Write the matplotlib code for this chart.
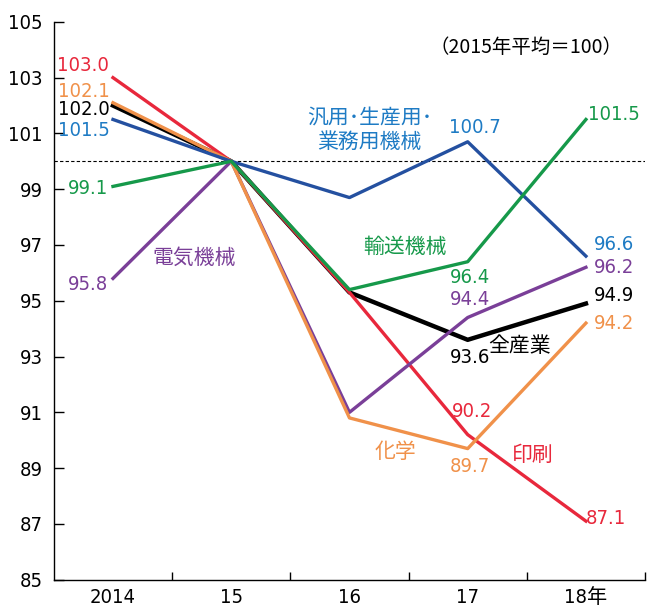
import matplotlib
matplotlib.use("Agg")
import matplotlib.pyplot as plt

years = ["2014", "15", "16", "17", "18年"]
all_ind = [102.0, 100.0, 95.3, 93.6, 94.9]
printing = [103.0, 100.0, 95.3, 90.2, 87.1]
chemical = [102.1, 100.0, 90.8, 89.7, 94.2]
machinery = [101.5, 100.0, 98.7, 100.7, 96.6]
transport = [99.1, 100.0, 95.4, 96.4, 101.5]
electric = [95.8, 100.0, 91.0, 94.4, 96.2]

FAM = ["DejaVu Sans", "Noto Sans CJK JP"]
CJK = ["Noto Sans CJK JP", "DejaVu Sans"]
plt.rcParams['font.family'] = FAM
plt.rcParams['font.stretch'] = "condensed"

RED = "#E8283C"
ORANGE = "#F0914A"
BLUE = "#2450A0"
BLUE_T = "#1E7BC4"
GREEN = "#16994A"
PURPLE = "#7A3F98"

fig = plt.figure(figsize=(6.65, 6.07), dpi=100)
ax = fig.add_axes([0.081, 0.045, 0.889, 0.919])
x = list(range(len(years)))

ax.axhline(100, color="black", lw=0.8, ls=(0, (3, 2)), zorder=1)
ax.plot(x, all_ind, color="black", lw=3.2, zorder=2)
ax.plot(x, printing, color=RED, lw=2.4, zorder=3)
ax.plot(x, electric, color=PURPLE, lw=2.4, zorder=3)
ax.plot(x, chemical, color=ORANGE, lw=2.4, zorder=4)
ax.plot(x, machinery, color=BLUE, lw=2.4, zorder=4)
ax.plot(x, transport, color=GREEN, lw=2.4, zorder=5)

fs = 14.5
def t(xx, yy, s, c):
    ax.text(xx, yy, s, color=c, fontsize=fs, ha="center", va="center",
            family=FAM, fontstretch="condensed")

def j(xx, yy, s, c, size=15):
    ax.text(xx, yy, s, color=c, fontsize=size, ha="center", va="center",
            family=CJK)

t(-0.25, 103.42, f"{printing[0]:.1f}", RED)
t(-0.25, 102.49, f"{chemical[0]:.1f}", ORANGE)
t(-0.25, 101.85, f"{all_ind[0]:.1f}", "black")
t(-0.25, 101.09, f"{machinery[0]:.1f}", BLUE_T)
t(-0.21, 99.01, f"{transport[0]:.1f}", GREEN)
t(-0.21, 95.57, f"{electric[0]:.1f}", PURPLE)
j(0.69, 96.54, "電気機械", PURPLE)
j(2.17, 101.56, "汎用･生産用･", BLUE_T)
j(2.17, 100.70, "業務用機械", BLUE_T)
t(3.06, 101.2, f"{machinery[3]:.1f}", BLUE_T)
t(4.24, 101.67, f"{transport[4]:.1f}", GREEN)
j(2.47, 96.94, "輸送機械", GREEN)
t(4.24, 97.0, f"{machinery[4]:.1f}", BLUE_T)
t(3.02, 95.82, f"{transport[3]:.1f}", GREEN)
t(4.24, 96.18, f"{electric[4]:.1f}", PURPLE)
t(3.02, 95.04, f"{electric[3]:.1f}", PURPLE)
t(4.24, 95.18, f"{all_ind[4]:.1f}", "black")
j(3.44, 93.39, "全産業", "black")
t(3.02, 92.96, f"{all_ind[3]:.1f}", "black")
t(4.24, 94.18, f"{chemical[4]:.1f}", ORANGE)
t(3.04, 91.02, f"{printing[3]:.1f}", RED)
j(2.39, 89.59, "化学", ORANGE)
t(3.02, 89.05, f"{chemical[3]:.1f}", ORANGE)
j(3.55, 89.48, "印刷", RED)
t(4.17, 87.19, f"{printing[4]:.1f}", RED)
j(3.49, 104.07, "（2015年平均＝100）", "black", size=14)

ax.set_xlim(-0.5, 4.5)
ax.set_ylim(85, 105)
ax.set_yticks(range(85, 106, 2))
ax.set_xticks(x)
ax.set_xticklabels(years)
ax.set_xticks([0.5, 1.5, 2.5, 3.5, 4.5], minor=True)
ax.tick_params(axis="x", which="major", length=0, labelsize=fs, pad=6)
ax.tick_params(axis="x", which="minor", length=6, direction="in", width=1)
ax.tick_params(axis="y", length=7, direction="in", width=1, labelsize=fs, pad=8)
for lab in ax.get_xticklabels() + ax.get_yticklabels():
    lab.set_fontstretch("condensed")
for s in ["top", "right"]:
    ax.spines[s].set_visible(False)
for s in ["left", "bottom"]:
    ax.spines[s].set_linewidth(1)

fig.savefig("out.png", dpi=100)
